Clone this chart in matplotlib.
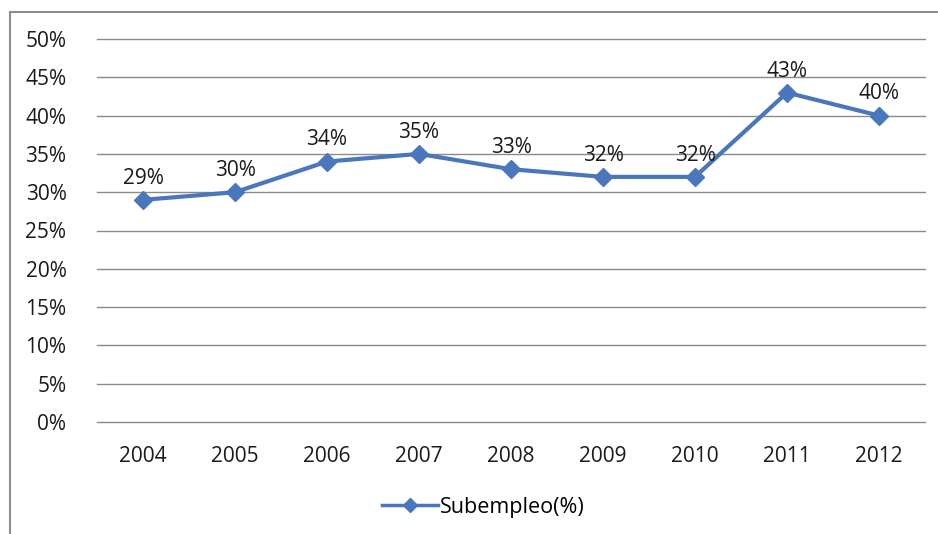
import matplotlib
matplotlib.use("Agg")
import matplotlib.pyplot as plt
from matplotlib.patches import Rectangle

years = ["2004", "2005", "2006", "2007", "2008", "2009", "2010", "2011", "2012"]
subempleo = [29, 30, 34, 35, 33, 32, 32, 43, 40]
yticks = [0, 5, 10, 15, 20, 25, 30, 35, 40, 45, 50]

plt.rcParams['font.family'] = ['Open Sans', 'DejaVu Sans']

fig = plt.figure(figsize=(9.38, 5.34), dpi=100)
ax = fig.add_axes([97/938, 1-422/534, (925-97)/938, (422-39)/534])

fig.patches.append(Rectangle((10/938, -0.2), 1.1, 1.2 - 12/534,
                             transform=fig.transFigure, fill=False,
                             edgecolor="#8c8c8c", linewidth=1.5))

x = list(range(len(years)))
color = "#4a76be"
ax.plot(x, subempleo, color=color, linewidth=3, marker="D", markersize=9,
        markerfacecolor=color, markeredgecolor=color, label="Subempleo(%)")

for xi, v in zip(x, subempleo):
    ax.annotate(f"{v}%", (xi, v), xytext=(0, 8), textcoords="offset points",
                ha="center", va="bottom", fontsize=15, color="#1a1a1a")

ax.set_xlim(-0.5, len(years) - 0.5)
ax.set_ylim(0, 50)
ax.set_yticks(yticks)
ax.set_yticklabels([f"{t}%" for t in yticks])
ax.set_xticks(x)
ax.set_xticklabels(years)
ax.tick_params(axis="both", length=0, labelsize=15, colors="#1a1a1a")
ax.tick_params(axis="y", pad=22)
ax.tick_params(axis="x", pad=17)
ax.grid(axis="y", color="#8a8a8a", linewidth=1)
for gl in ax.get_ygridlines():
    gl.set_clip_on(False)
ax.set_axisbelow(True)
for s in ax.spines.values():
    s.set_visible(False)

leg = fig.legend(loc="center", bbox_to_anchor=(0.515, 1-507/534), frameon=False,
                 fontsize=15.5, handlelength=2.6, handletextpad=0.1)
for h in leg.legend_handles:
    h.set_linewidth(2.5)
    h.set_markersize(7)

fig.savefig("out.png", dpi=100)
